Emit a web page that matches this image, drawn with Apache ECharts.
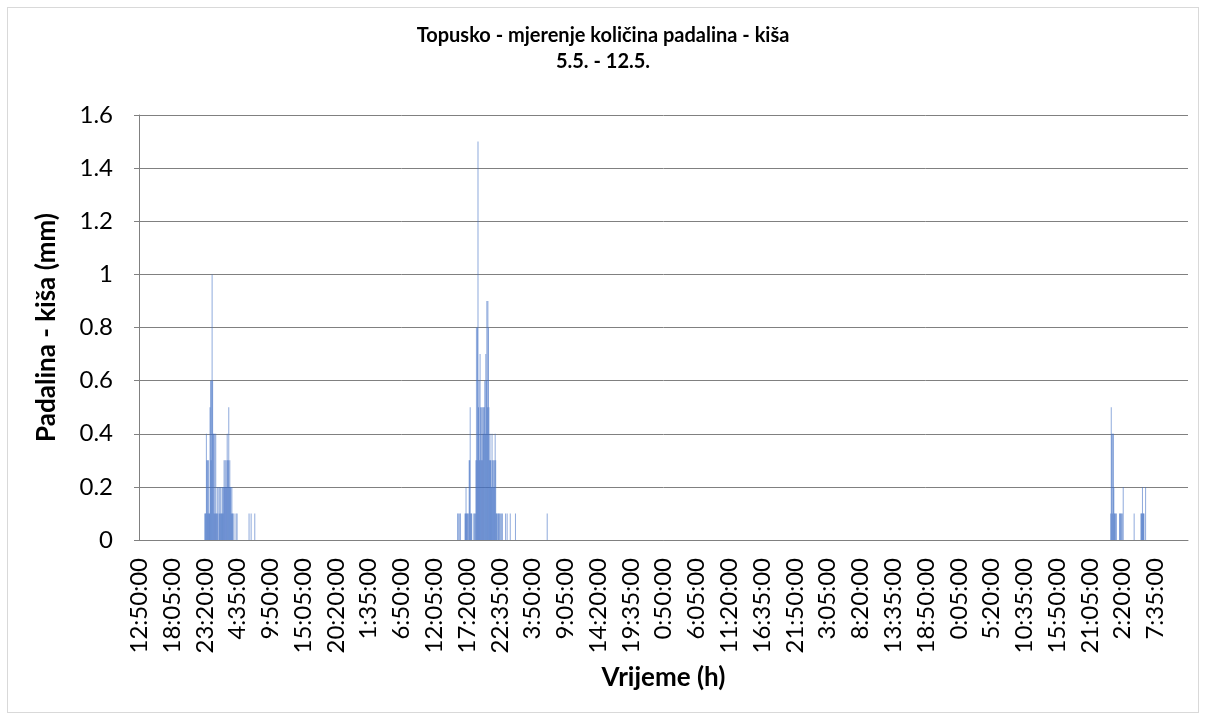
<!DOCTYPE html>
<html>
<head>
<meta charset="utf-8">
<script src="https://cdn.jsdelivr.net/npm/echarts@6/dist/echarts.min.js"></script>
<style>
  body { margin: 0; background: #fff; }
  #chart { width: 1206px; height: 718px; }
  #frame {
    position: absolute; left: 7px; top: 7px; width: 1190px; height: 704px;
    border: 1px solid #d9d9d9; pointer-events: none;
  }
</style>
</head>
<body>
<div id="chart"></div>
<div id="frame"></div>
<script>
// mjerenja svakih 5 min, od 5.5. 12:50 do 12.5. 12:45
const startTime = '12:50:00';
const stepMinutes = 5;
const slotCount = 2016;

// oznake na osi x (svaka 63. kategorija)
const tickLabels = ['12:50:00', '18:05:00', '23:20:00', '4:35:00', '9:50:00', '15:05:00', '20:20:00', '1:35:00',
  '6:50:00', '12:05:00', '17:20:00', '22:35:00', '3:50:00', '9:05:00', '14:20:00', '19:35:00',
  '0:50:00', '6:05:00', '11:20:00', '16:35:00', '21:50:00', '3:05:00', '8:20:00', '13:35:00',
  '18:50:00', '0:05:00', '5:20:00', '10:35:00', '15:50:00', '21:05:00', '2:20:00', '7:35:00'];

// kiša (mm) - nizovi mjerenja, start = redni broj mjerenja
const burst1Start = 126;
const burst1 = [0.1, 0.1, 0.1, 0.4, 0.3, 0.3, 0.1, 0.3, 0.1, 0.1, 0.5, 0.6, 0.3, 0.6, 1.0, 0.6, 0.4, 0.4, 0.1, 0.4,
  0.1, 0.4, 0.1, 0.1, 0.2, 0.1, 0, 0.2, 0.1, 0.2, 0.1, 0.2, 0.1, 0.1, 0.2, 0.1, 0.2, 0.3, 0.2, 0.3,
  0.2, 0.3, 0.2, 0.4, 0.3, 0.3, 0.5, 0.2, 0.3, 0.2, 0.2, 0.1, 0.2, 0.1, 0.1, 0, 0.1, 0, 0, 0, 0.1, 0, 0.1];

const burst2Start = 612;
const burst2 = [0.1, 0.1, 0, 0, 0.1, 0.1, 0, 0, 0, 0, 0, 0, 0, 0, 0.1, 0.1, 0.2, 0.1, 0.1, 0.1,
  0, 0.1, 0.3, 0.3, 0.5, 0.1, 0.1, 0.1, 0, 0, 0, 0.1, 0.1, 0, 0.1, 0.3, 0.8, 0.3, 0.8, 1.5,
  0.5, 0.6, 0.3, 0.7, 0.5, 0.3, 0.5, 0.3, 0.5, 0.4, 0.5, 0.5, 0.6, 0.4, 0.7, 0.6, 0.9, 0.5, 0.9, 0.8,
  0.5, 0.3, 0.4, 0.3, 0.3, 0.2, 0.4, 0.3, 0.2, 0.3, 0.2, 0.3, 0.4, 0.3, 0.1, 0.1, 0.1, 0, 0.1, 0.1,
  0.1, 0, 0.1, 0, 0.1, 0, 0.1];

const burst3Start = 1867;
const burst3 = [0.1, 0.5, 0.4, 0.1, 0.4, 0.4, 0.2, 0.1, 0.1, 0.1, 0, 0.1, 0, 0, 0, 0, 0, 0.1, 0.1, 0.1,
  0, 0.1, 0.1, 0, 0.2];

const burst4Start = 1925;
const burst4 = [0.1, 0.1, 0.1, 0.2, 0.1, 0.1, 0.1, 0, 0, 0.2];

// pojedinačna mjerenja [redni broj, mm]
const singles = [[211, 0.1], [215, 0.1], [222, 0.1], [704, 0.1], [707, 0.1], [713, 0.1], [723, 0.1],
  [784, 0.1], [1912, 0.1]];

// kategorije
const categories = [];
const [h0, m0] = startTime.split(':').map(Number);
for (let i = 0; i < slotCount; i++) {
  const t = (h0 * 60 + m0 + i * stepMinutes) % 1440;
  categories.push(Math.floor(t / 60) + ':' + String(t % 60).padStart(2, '0') + ':00');
}

const rain = new Array(slotCount).fill(0);
[[burst1Start, burst1], [burst2Start, burst2], [burst3Start, burst3], [burst4Start, burst4]].forEach(([s, arr]) => {
  arr.forEach((v, k) => { rain[s + k] = v; });
});
singles.forEach(([i, v]) => { rain[i] = v; });

const font = 'Lato, "Open Sans", sans-serif';
const chart = echarts.init(document.getElementById('chart'));
chart.setOption({
  animation: false,
  title: {
    text: 'Topusko - mjerenje količina padalina - kiša\n5.5. - 12.5.',
    left: 'center',
    top: 18,
    textStyle: { fontFamily: font, fontSize: 20, fontWeight: 'bold', color: '#000', lineHeight: 26 }
  },
  grid: { left: 139, right: 18, top: 115, bottom: 178 },
  xAxis: {
    type: 'category',
    data: categories,
    name: 'Vrijeme (h)',
    nameLocation: 'middle',
    nameGap: 125,
    nameTextStyle: { fontFamily: font, fontSize: 26, fontWeight: 'bold', color: '#000' },
    axisLine: { lineStyle: { color: '#808080', width: 1 } },
    axisTick: { show: false },
    axisLabel: {
      interval: 62,
      rotate: 90,
      margin: 18,
      fontFamily: font,
      fontSize: 24,
      color: '#000',
      formatter: (v, i) => tickLabels[i / 63] || v
    }
  },
  yAxis: {
    type: 'value',
    min: 0,
    max: 1.6,
    interval: 0.2,
    name: 'Padalina - kiša (mm)',
    nameLocation: 'middle',
    nameGap: 79,
    nameTextStyle: { fontFamily: font, fontSize: 26, fontWeight: 'bold', color: '#000' },
    axisLine: { show: true, lineStyle: { color: '#808080' } },
    axisTick: { show: true, length: 5, lineStyle: { color: '#808080' } },
    splitLine: { lineStyle: { color: '#808080' } },
    axisLabel: {
      margin: 26,
      fontFamily: font,
      fontSize: 24,
      color: '#000',
      formatter: v => String(Math.round(v * 10) / 10)
    }
  },
  series: [{
    type: 'bar',
    data: rain,
    barCategoryGap: '55%',
    itemStyle: { color: '#4472C4', opacity: 0.6 }
  }]
});
</script>
</body>
</html>
